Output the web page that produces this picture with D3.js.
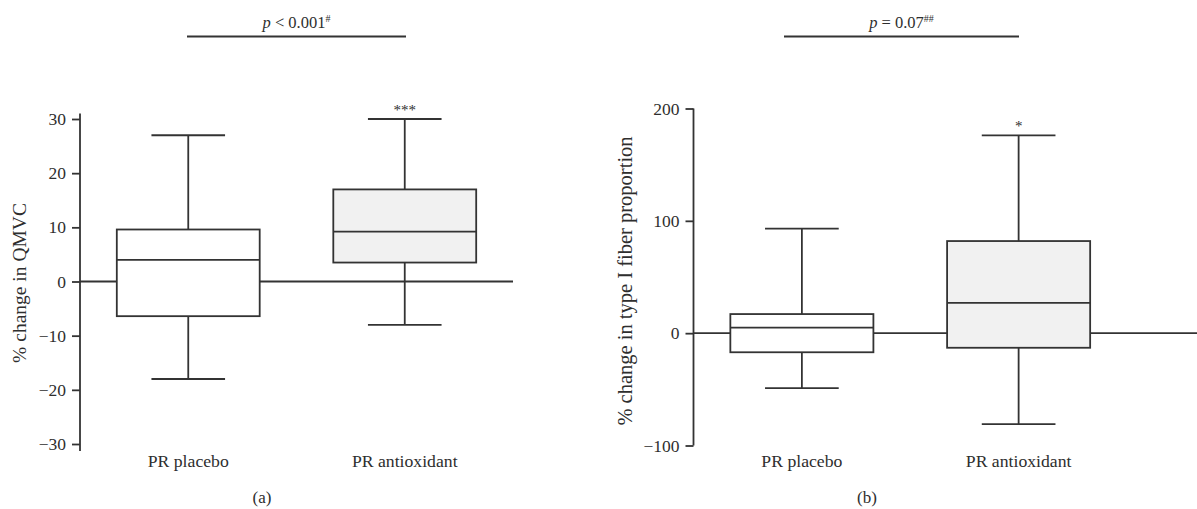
<!DOCTYPE html>
<html>
<head>
<meta charset="utf-8">
<script src="https://cdn.jsdelivr.net/npm/d3@7"></script>
<style>
  body { margin: 0; background: #fff; }
  svg text { font-family: "Liberation Serif", "Times New Roman", serif; fill: #2e2e2e; }
</style>
</head>
<body>
<svg id="chart" width="1197" height="509"></svg>
<script>
// groups on the x axis (same for both panels)
var groups = ["PR placebo", "PR antioxidant"];

// panel (a): % change in QMVC  [min, q1, median, q3, max]
var qmvcStats = [
  [-18, -6.4, 4, 9.6, 27],
  [-8, 3.5, 9.2, 17, 30]
];
var qmvcTicks = [-30, -20, -10, 0, 10, 20, 30];

// panel (b): % change in type I fiber proportion
var fiberStats = [
  [-49, -17, 5, 17, 93],
  [-81, -13, 27, 82, 176]
];
var fiberTicks = [-100, 0, 100, 200];

var groupFills = ["#ffffff", "#f1f1f1"];
var starsA = ["", "***"];
var starsB = ["", "*"];

var ink = "#333";
var svg = d3.select("#chart");

    // draws one box plot panel
function drawPanel(opt) {
    var g = svg.append("g");

    var y = d3.scaleLinear().domain(opt.domain).range(opt.yRange);
    var x = d3.scaleBand().domain(groups).range(opt.xRange).padding(0);
    var boxW = x.bandwidth() * 0.66;
    var capW = x.bandwidth() * 0.34;

        // y axis, ticks and labels
    var axis = d3.axisLeft(y).tickValues(opt.ticks).tickSize(8).tickSizeOuter(0).tickPadding(6);
    var ag = g.append("g").attr("transform", "translate(" + opt.xRange[0] + ",0)").call(axis);
    ag.select(".domain").remove();
    ag.selectAll(".tick line").attr("stroke", ink).attr("stroke-width", 1.8);
    ag.selectAll(".tick text")
        .style("font-family", "Liberation Serif, serif")
        .style("font-size", "17.5px")
        .attr("fill", ink)
        .text(function(d) { return d < 0 ? "\u2212" + Math.abs(d) : d; });

    g.append("line")
        .attr("x1", opt.xRange[0]).attr("x2", opt.xRange[0])
        .attr("y1", y(opt.axisExtent[1])).attr("y2", y(opt.axisExtent[0]))
        .attr("stroke", ink).attr("stroke-width", 1.8);

        // zero line behind the boxes
    g.append("line")
        .attr("x1", opt.xRange[0]).attr("x2", opt.zeroEnd)
        .attr("y1", y(0)).attr("y2", y(0))
        .attr("stroke", ink).attr("stroke-width", 1.8);

    groups.forEach(function(name, i) {
        var s = opt.stats[i];
        var cx = x(name) + x.bandwidth() / 2;

            // whiskers
        g.append("line").attr("x1", cx).attr("x2", cx)
            .attr("y1", y(s[4])).attr("y2", y(s[0]))
            .attr("stroke", ink).attr("stroke-width", 1.8);
        [s[0], s[4]].forEach(function(v) {
            g.append("line").attr("x1", cx - capW / 2).attr("x2", cx + capW / 2)
                .attr("y1", y(v)).attr("y2", y(v))
                .attr("stroke", ink).attr("stroke-width", 1.8);
        });

            // box and median
        g.append("rect")
            .attr("x", cx - boxW / 2).attr("width", boxW)
            .attr("y", y(s[3])).attr("height", y(s[1]) - y(s[3]))
            .attr("fill", groupFills[i]).attr("stroke", ink).attr("stroke-width", 1.8);
        g.append("line").attr("x1", cx - boxW / 2).attr("x2", cx + boxW / 2)
            .attr("y1", y(s[2])).attr("y2", y(s[2]))
            .attr("stroke", ink).attr("stroke-width", 1.8);

            // significance stars
        if (opt.stars[i])
            g.append("text").attr("x", cx).attr("y", y(s[4]) - 4)
                .attr("text-anchor", "middle").style("font-size", "15px")
                .text(opt.stars[i]);

            // category label
        g.append("text").attr("x", cx).attr("y", 467)
            .attr("text-anchor", "middle").style("font-size", "17.7px")
            .text(name);
    });

        // y axis title
    g.append("text")
        .attr("transform", "translate(" + opt.titleX + "," + opt.titleY + ") rotate(-90)")
        .attr("text-anchor", "middle").style("font-size", opt.titleSize)
        .text(opt.yTitle);

        // p value bracket on top
    g.append("line").attr("x1", opt.bracket[0]).attr("x2", opt.bracket[1])
        .attr("y1", 36.5).attr("y2", 36.5)
        .attr("stroke", ink).attr("stroke-width", 2);
    var pt = g.append("text").attr("x", (opt.bracket[0] + opt.bracket[1]) / 2).attr("y", 28)
        .attr("text-anchor", "middle").style("font-size", "16.5px");
    pt.append("tspan").style("font-style", "italic").text("p");
    pt.append("tspan").text(opt.pText);
    pt.append("tspan").attr("dy", -6).style("font-size", "10px").text(opt.pSup);

        // panel letter
    g.append("text").attr("x", opt.letterX).attr("y", 503)
        .attr("text-anchor", "middle").style("font-size", "17px")
        .text(opt.letter);
}

drawPanel({
    stats: qmvcStats, ticks: qmvcTicks, domain: [-30, 30], yRange: [444, 119],
    axisExtent: [-31.3, 31], xRange: [80, 513], zeroEnd: 513,
    stars: starsA,
    yTitle: "% change in QMVC", titleX: 26, titleY: 283, titleSize: "19.5px",
    bracket: [187, 406], pText: " < 0.001", pSup: "#",
    letter: "(a)", letterX: 262
});

drawPanel({
    stats: fiberStats, ticks: fiberTicks, domain: [-100, 200], yRange: [445.5, 108.5],
    axisExtent: [-100, 200], xRange: [693.5, 1127], zeroEnd: 1197,
    stars: starsB,
    yTitle: "% change in type I fiber proportion", titleX: 632, titleY: 281, titleSize: "20.5px",
    bracket: [784, 1019], pText: " = 0.07", pSup: "##",
    letter: "(b)", letterX: 867
});
</script>
</body>
</html>
